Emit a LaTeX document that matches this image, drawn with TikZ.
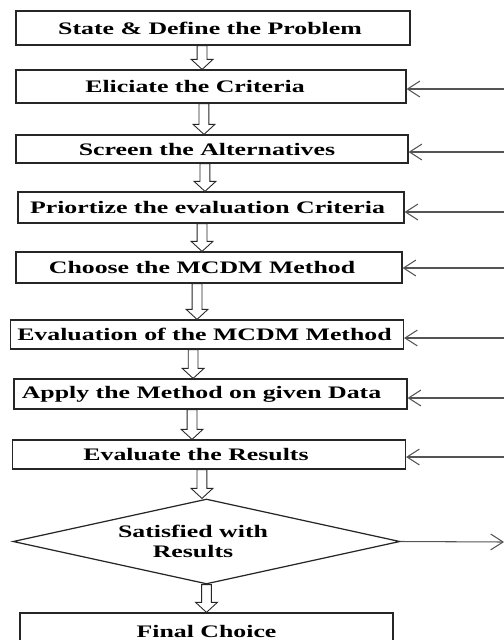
\documentclass[tikz,border=0pt]{standalone}
\usepackage{fontspec}
\setmainfont{Liberation Serif}
\newfontfamily\flowfont{Liberation Serif}[FakeStretch=1.47]
\usepackage{xcolor}
\usepackage{tikz}
\usetikzlibrary{arrows.meta,positioning,calc,shapes.geometric}
\definecolor{cflink}{rgb}{0.33,0.33,0.33}
\definecolor{cfbox}{rgb}{0.15,0.15,0.15}

% hollow block arrow from one step down to the next
\newcommand{\hollowarrow}[3]{%
  \draw[cfbox, line width=0.5pt, fill=white]
    let \p1=($(#2.south)+(#1,0)$), \p2=(#3.north) in
    ({\x1-2.8pt},\y1) -- ({\x1-2.8pt},{\y2+5.7pt}) -- ({\x1-6.2pt},{\y2+5.7pt})
    -- (\x1,\y2) -- ({\x1+6.2pt},{\y2+5.7pt}) -- ({\x1+2.8pt},{\y2+5.7pt})
    -- ({\x1+2.8pt},\y1) -- cycle;
}
% text sits a little left of the box centre
\newcommand{\leftish}[2]{#2\hspace*{#1}}

\begin{document}
\begin{tikzpicture}[x=0.02cm, y=-0.02cm,
  stepbox/.style={draw=cfbox, line width=0.7pt, fill=white, inner sep=0pt,
    font=\flowfont\bfseries\fontsize{10pt}{11.5pt}\selectfont},
  fback/.style={cflink, line width=0.6pt, -{Straight Barb[length=7pt,width=9pt]}}]
  \useasboundingbox (0,0) rectangle (504,640);
  % steps
  \node[stepbox, minimum width=7.88cm, minimum height=0.68cm] (define) at (213,28) {\leftish{0.12cm}{State \& Define the Problem}};
  \node[stepbox, minimum width=7.80cm, minimum height=0.66cm] (elicit) at (211,86.5) {\leftish{0.64cm}{Eliciate the Criteria}};
  \node[stepbox, minimum width=7.84cm, minimum height=0.56cm] (screen) at (212,149) {\leftish{0.2cm}{Screen the Alternatives}};
  \node[stepbox, minimum width=7.72cm, minimum height=0.62cm] (prior) at (211,207.5) {\leftish{0.14cm}{Priortize the evaluation Criteria}};
  \node[stepbox, minimum width=7.72cm, minimum height=0.62cm] (choose) at (209,267.5) {\leftish{0.28cm}{Choose the MCDM Method}};
  \node[stepbox, minimum width=7.86cm, minimum height=0.58cm] (evalm) at (207,334.5) {\leftish{0.1cm}{Evaluation of the MCDM Method}};
  \node[stepbox, minimum width=7.86cm, minimum height=0.60cm] (apply) at (210.5,394) {\leftish{0.36cm}{Apply the Method on given Data}};
  \node[stepbox, minimum width=7.86cm, minimum height=0.58cm] (evalr) at (209,454.5) {\leftish{0.52cm}{Evaluate the Results}};
  \node[stepbox, shape=diamond, align=center, aspect=4.55, minimum width=7.74cm, minimum height=1.7cm] (satis) at (206.5,541.5) {\leftish{0.54cm}{Satisfied with}\\\leftish{0.54cm}{Results}};
  \node[stepbox, minimum width=7.46cm, minimum height=0.72cm] (final) at (206.5,631) {Final Choice};
  % block arrows
  \hollowarrow{-6.2pt}{define}{elicit}
  \hollowarrow{-4pt}{elicit}{screen}
  \hollowarrow{-4pt}{screen}{prior}
  \hollowarrow{-5.1pt}{prior}{choose}
  \hollowarrow{-6.8pt}{choose}{evalm}
  \hollowarrow{-7.9pt}{evalm}{apply}
  \hollowarrow{-10.5pt}{apply}{evalr}
  \hollowarrow{-4pt}{evalr}{satis}
  \hollowarrow{0pt}{satis}{final}
  % feedback lines from the right
  \coordinate (in2) at (504,89);
  \coordinate (in3) at (504,152);
  \coordinate (in4) at (504,212);
  \coordinate (in5) at (504,268);
  \coordinate (in6) at (504,338);
  \coordinate (in7) at (504,398);
  \coordinate (in8) at (504,457);
  \coordinate (out) at (504,542);
  \draw[fback] (in2) -- (in2 -| elicit.east);
  \draw[fback] (in3) -- (in3 -| screen.east);
  \draw[fback] (in4) -- (in4 -| prior.east);
  \draw[fback] (in5) -- (in5 -| choose.east);
  \draw[fback] (in6) -- (in6 -| evalm.east);
  \draw[fback] (in7) -- (in7 -| apply.east);
  \draw[fback] (in8) -- (in8 -| evalr.east);
  \draw[fback] (satis.east) -- (out);
\end{tikzpicture}
\end{document}
